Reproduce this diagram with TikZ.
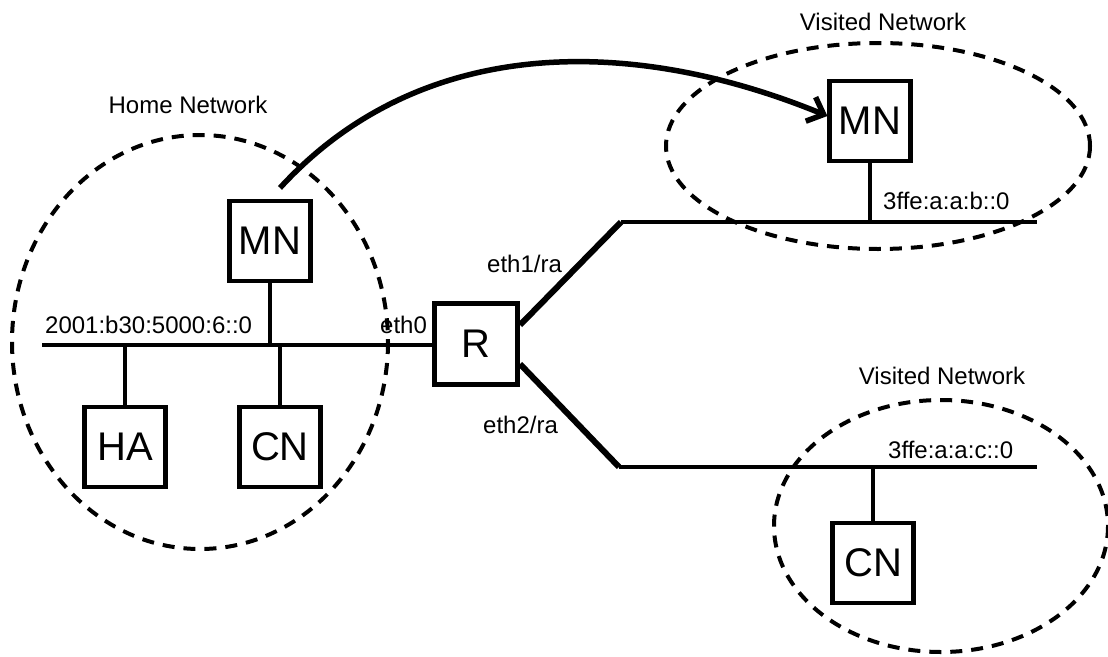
\documentclass[tikz,border=0pt]{standalone}
\usepackage{fontspec}
\setmainfont{Liberation Sans}
\usetikzlibrary{arrows.meta}
\begin{document}
\begin{tikzpicture}[x=1pt,y=-1pt,
  box/.style={draw,line width=4.2pt,minimum width=81pt,minimum height=80pt,inner sep=0pt,font=\fontsize{40}{44}\selectfont},
  lbl/.style={inner sep=0pt,font=\fontsize{24}{28}\selectfont},
  bus/.style={line width=4.2pt},
  link/.style={line width=6pt},
  net/.style={line width=4pt,dash pattern=on 12pt off 9pt},
  move/.style={line width=5.5pt,-{Straight Barb[length=14pt,width=26pt]}}]
\useasboundingbox (0,0) rectangle (1108,656);

% network ellipses
\draw[net] (200,342) ellipse [x radius=188, y radius=207];
\draw[net] (878,146) ellipse [x radius=212, y radius=103];
\draw[net] (941,526) ellipse [x radius=167, y radius=126];

% nodes
\node[box] (MN1) at (270,241) {MN};
\node[box] (HA) at (125,447) {HA};
\node[box] (CN1) at (280,447) {CN};
\node[box,minimum width=83pt,minimum height=81pt] (R) at (476,344) {R};
\node[box] (MN2) at (870,121) {MN};
\node[box] (CN2) at (873,563) {CN};

% bus coordinates
\coordinate (hbW) at (42,345);
\coordinate (r1) at (520,325);
\coordinate (r2) at (520,364);
\coordinate (t1) at (621,222);
\coordinate (t2) at (1037,222);
\coordinate (b1) at (619,467);
\coordinate (b2) at (1037,467);

% home bus
\draw[bus] (hbW) -- (hbW -| R.west);
\draw[bus] (MN1.south) -- (MN1.south |- hbW);
\draw[bus] (HA.north) -- (HA.north |- hbW);
\draw[bus] (CN1.north) -- (CN1.north |- hbW);

% router links
\draw[link] (r1) -- (t1);
\draw[link] (r2) -- (b1);
\draw[bus] (t1) -- (t2);
\draw[bus] (b1) -- (b2);
\draw[bus] (MN2.south) -- (MN2.south |- t1);
\draw[bus] (CN2.north) -- (CN2.north |- b1);

% movement arrow
\draw[move] ([xshift=10pt,yshift=11pt]MN1.north) .. controls (420,35) and (630,35) .. ([yshift=5pt]MN2.west);

% labels
\node[lbl] (lhome) at (188,105) {Home Network};
\node[lbl,anchor=base west] (lpre1) at (45,333) {2001:b30:5000:6::0};
\node[lbl,anchor=base west] (leth0) at (380,333) {eth0};
\node[lbl,anchor=base west] (leth1) at (487,272) {eth1/ra};
\node[lbl,anchor=base west] (leth2) at (483,433) {eth2/ra};
\node[lbl,anchor=base] (lvis1) at (883,30) {Visited Network};
\node[lbl,anchor=base west] (lpre2) at (883,209) {3ffe:a:a:b::0};
\node[lbl,anchor=base] (lvis2) at (942,384) {Visited Network};
\node[lbl,anchor=base west] (lpre3) at (888,458) {3ffe:a:a:c::0};
\end{tikzpicture}
\end{document}
